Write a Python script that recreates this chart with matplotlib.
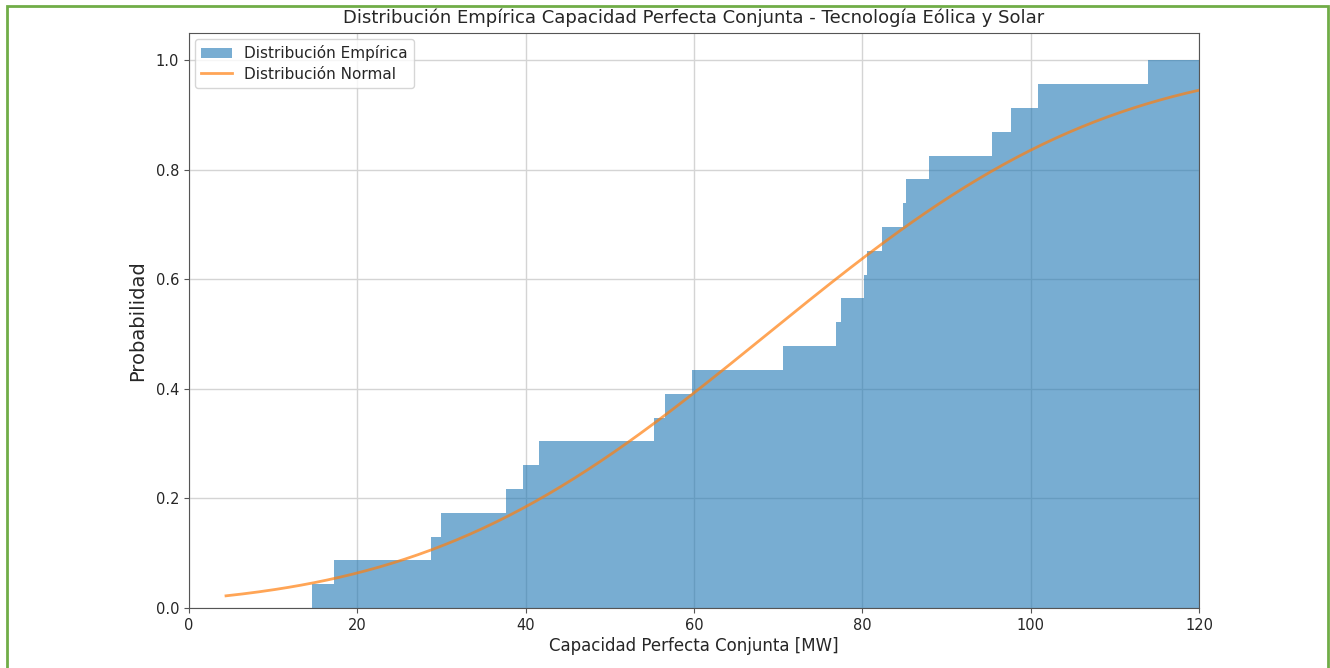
import math
import numpy as np
import matplotlib
matplotlib.use("Agg")
import matplotlib.pyplot as plt
from matplotlib.patches import Rectangle

# Capacidad perfecta conjunta observada [MW] (23 muestras)
capacidad_mw = [14.6, 17.2, 28.8, 30.0, 37.7, 39.7, 41.6, 55.2, 56.6, 59.8,
                70.6, 76.9, 77.5, 80.2, 80.5, 82.3, 84.8, 85.2, 87.9, 95.4,
                97.7, 100.9, 114.0]
capacidad_max = 120.0

# Ajuste normal
media_mw = 68.7
desv_mw = 32.0
x_normal_ini = 4.4

x_ticks = [0, 20, 40, 60, 80, 100, 120]
y_ticks = [0.0, 0.2, 0.4, 0.6, 0.8, 1.0]

texto = "#262626"

fig = plt.figure(figsize=(13.3, 6.68), dpi=100)
ax = fig.add_axes([0.1421, 0.0898, 0.7594, 0.8608])

datos = np.sort(np.array(capacidad_mw))
bordes = np.append(datos, capacidad_max)
ax.hist(datos, bins=bordes, cumulative=True, density=True,
        histtype="stepfilled", color="#1f77b4", alpha=0.6,
        label="Distribución Empírica", zorder=2)

xs = np.linspace(x_normal_ini, capacidad_max, 300)
cdf = [0.5 * (1 + math.erf((v - media_mw) / (desv_mw * math.sqrt(2)))) for v in xs]
ax.plot(xs, cdf, color="#ff7f0e", alpha=0.7, lw=2, label="Distribución Normal",
        zorder=3)

ax.set_xlim(0, 120)
ax.set_ylim(0, 1.05)
ax.set_xticks(x_ticks)
ax.set_yticks(y_ticks)
ax.tick_params(labelsize=10.5, colors=texto)
ax.tick_params(color="#555555")
ax.grid(True, color="#d4d4d4", lw=1, zorder=0)
ax.set_axisbelow(True)
for s in ax.spines.values():
    s.set_color("#555555")

ax.set_title("Distribución Empírica Capacidad Perfecta Conjunta - Tecnología Eólica y Solar",
             fontsize=13, pad=7, color=texto)
ax.set_xlabel("Capacidad Perfecta Conjunta [MW]", fontsize=12, color=texto, labelpad=3)
ax.set_ylabel("Probabilidad", fontsize=14, color=texto, labelpad=6)
leg = ax.legend(loc="upper left", fontsize=11, borderaxespad=0.4, labelspacing=0.35)
for t in leg.get_texts():
    t.set_color(texto)

# Marco verde del recuadro
fig.patches.append(Rectangle((7 / 1330, -0.05), 1321 / 1330, 1.05 - 6 / 668,
                             transform=fig.transFigure, fill=False,
                             edgecolor="#70ad47", lw=2))

fig.savefig("out.png", dpi=100)
